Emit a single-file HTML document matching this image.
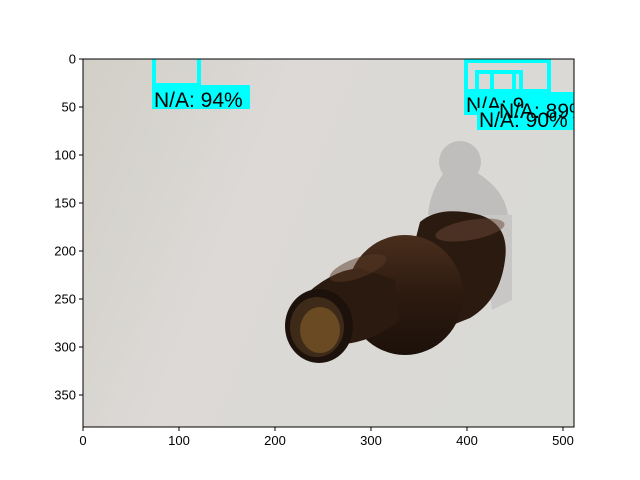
<!DOCTYPE html>
<html><head><meta charset="utf-8"><style>
html,body{margin:0;padding:0;background:#fff;}
svg{display:block;font-family:"Liberation Sans",sans-serif;}
</style></head><body>
<svg width="640" height="480" viewBox="0 0 640 480">
<defs>
<linearGradient id="bg" x1="0" y1="0" x2="1" y2="0.3">
<stop offset="0" stop-color="#d1cfc6"/><stop offset="0.4" stop-color="#dcd9d7"/><stop offset="1" stop-color="#d9d9d5"/>
</linearGradient>
<linearGradient id="glass" x1="0" y1="0" x2="0" y2="1"><stop offset="0" stop-color="#4a2e1c"/><stop offset="0.5" stop-color="#2c1a10"/><stop offset="1" stop-color="#1c110a"/></linearGradient>
<clipPath id="ax"><rect x="83" y="59" width="491" height="368"/></clipPath>
</defs>
<g clip-path="url(#ax)">
<rect x="83" y="59" width="491" height="368" fill="url(#bg)"/>
<g fill="#c0bebd">
<circle cx="460" cy="162" r="21"/>
<path d="M446,170 Q430,190 428,215 L508,215 Q505,190 476,172 Z"/>
<path d="M480,215 L512,215 L512,300 L492,310 Z" fill="#c9c7c6"/>
</g>
<g>
<path d="M420,222 Q440,205 480,215 Q510,225 505,260 Q500,300 470,318 L440,330 Q420,330 400,300 Z" fill="#2a1a10"/>
<ellipse cx="405" cy="295" rx="58" ry="60" fill="url(#glass)"/>
<path d="M300,300 Q330,270 360,268 L395,280 L400,320 Q370,345 330,345 Z" fill="#2b1a0f"/>
<ellipse cx="319" cy="326" rx="34" ry="37" fill="#1d120b"/>
<ellipse cx="317" cy="327" rx="27" ry="30" fill="#3e2a18"/>
<ellipse cx="320" cy="330" rx="20" ry="23" fill="#6a4a22"/>
<ellipse cx="358" cy="268" rx="30" ry="10" fill="#5a3a26" opacity="0.5" transform="rotate(-20 358 268)"/>
<ellipse cx="470" cy="230" rx="35" ry="10" fill="#6b4836" opacity="0.5" transform="rotate(-10 470 230)"/>
</g>
<g fill="none" stroke="#00ffff" stroke-width="4">
<rect x="154" y="57" width="45" height="28"/>
<rect x="466" y="61" width="83" height="30"/>
<rect x="477" y="72" width="44" height="22"/>
<rect x="492" y="72" width="22" height="22"/>
</g>
<g font-size="21" fill="#000">
<rect x="152" y="85" width="98" height="24" fill="#00ffff"/>
<text x="154" y="107">N/A: 94%</text>
<rect x="464" y="92" width="110" height="23" fill="#00ffff"/>
<text x="466" y="112">N/A: 9</text>
<rect x="477" y="108" width="97" height="22" fill="#00ffff"/>
<text x="479" y="127">N/A: 90%</text>
<text x="499" y="118">N/A: 89%</text>
</g>
</g>
<rect x="83" y="59" width="491" height="368" fill="none" stroke="#000" stroke-width="1"/>
<g font-size="13" text-anchor="middle" stroke="#000">
<g id="xt"></g>
</g>
<g font-size="13" text-anchor="end" stroke="#000">
<g id="yt"></g>
</g>
</svg>
<script>
const xTicks=[0,100,200,300,400,500];
const yTicks=[0,50,100,150,200,250,300,350];
const ns="http://www.w3.org/2000/svg";
const sx=v=>83+0.96*v, sy=v=>59+0.96*v;
const xt=document.getElementById('xt'), yt=document.getElementById('yt');
xTicks.forEach(v=>{
 const l=document.createElementNS(ns,'line');
 
 
 l.setAttribute('x1',sx(v));l.setAttribute('x2',sx(v));l.setAttribute('y1',427);l.setAttribute('y2',431);xt.appendChild(l);
 const t=document.createElementNS(ns,'text');
 
 
 t.setAttribute('x',sx(v));t.setAttribute('y',445);t.setAttribute('stroke','none');t.textContent=v;xt.appendChild(t);
});
yTicks.forEach(v=>{
 const l=document.createElementNS(ns,'line');
 
 
 l.setAttribute('x1',79);l.setAttribute('x2',83);l.setAttribute('y1',sy(v));l.setAttribute('y2',sy(v));yt.appendChild(l);
 const t=document.createElementNS(ns,'text');
 
 
 t.setAttribute('x',76);t.setAttribute('y',sy(v)+4.5);t.setAttribute('stroke','none');t.textContent=v;yt.appendChild(t);
});
</script>
</body></html>
